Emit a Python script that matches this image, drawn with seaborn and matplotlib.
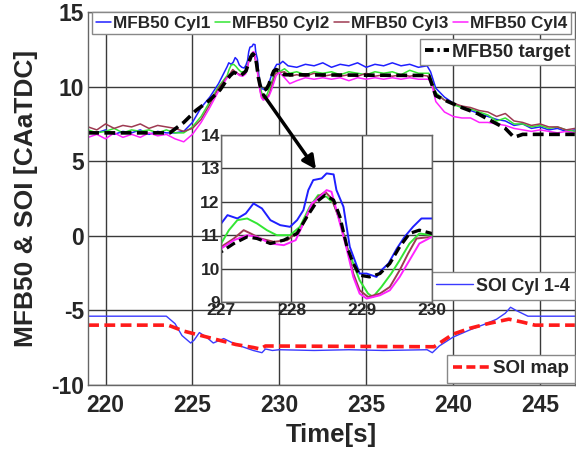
import numpy as np
import pandas as pd
import matplotlib
matplotlib.use("Agg")
import matplotlib.pyplot as plt
import seaborn as sns
from matplotlib.lines import Line2D

sns.set_style("white")
plt.rcParams['font.family'] = ['Liberation Sans', 'DejaVu Sans']
plt.rcParams['font.weight'] = 'bold'
plt.rcParams['axes.unicode_minus'] = False

# ---------------- data ----------------
inset_t1 = [227, 227.09, 227.23, 227.35, 227.46, 227.58, 227.7, 227.84, 227.98, 228.08, 228.17, 228.24,
            228.31, 228.43, 228.5, 228.6, 228.64, 228.74, 228.83, 228.9, 228.97, 229.07, 229.21, 229.28,
            229.38, 229.5, 229.61, 229.73, 229.85, 230]
inset_v1 = [11.35, 11.6, 11.5, 11.65, 11.95, 11.8, 11.45, 11.3, 11.25, 11.45, 11.75, 12.35,
            12.65, 12.7, 12.85, 12.82, 12.35, 11.85, 10.65, 10.25, 9.85, 9.85, 9.75, 9.95,
            10.15, 10.6, 10.95, 11.25, 11.5, 11.5]
cyl1_t = ([219, 219.5, 220, 220.5, 221, 221.5, 222, 222.5, 223, 223.5, 224, 224.5, 225, 225.5, 226, 226.5]
          + inset_t1 +
          [230.2, 230.5, 231, 231.5, 232, 232.5, 233, 233.5, 234, 234.5, 235, 235.5, 236, 236.5, 237,
           237.5, 238, 238.5, 238.7, 239, 239.5, 240, 240.5, 241, 241.5, 242, 242.5, 243, 243.5, 244,
           244.5, 245, 245.5, 246, 246.5, 247])
cyl1_v = ([7.0, 6.9, 7.1, 6.8, 7.0, 6.9, 7.1, 6.8, 7.0, 6.9, 6.9, 7.0, 7.6, 8.6, 9.3, 10.2]
          + inset_v1 +
          [11.7, 11.4, 11.3, 11.5, 11.4, 11.6, 11.3, 11.5, 11.4, 11.6, 11.3, 11.5, 11.4, 11.6, 11.4,
           11.5, 11.3, 11.4, 11.0, 9.9, 9.3, 8.9, 8.6, 8.4, 8.2, 8.0, 7.8, 7.7, 7.4, 7.5,
           7.2, 7.3, 7.1, 7.2, 7.0, 7.1])

cyl2_t = ([219, 219.5, 220, 220.5, 221, 221.5, 222, 222.5, 223, 223.5, 224, 224.5, 225, 225.5, 226, 226.5,
           227, 227.11, 227.23, 227.37, 227.51, 227.65, 227.79, 227.98, 228.12, 228.26, 228.38, 228.5,
           228.6, 228.69, 228.79, 228.88, 228.97, 229.09, 229.16, 229.28, 229.42, 229.54, 229.68, 229.82, 230,
           230.3, 230.6, 231, 231.5, 232, 232.5, 233, 233.5, 234, 234.5, 235, 235.5, 236, 236.5, 237,
           237.5, 238, 238.6, 239, 239.5, 240, 240.5, 241, 241.5, 242, 242.5, 243, 243.5, 244, 244.5,
           245, 245.5, 246, 246.5, 247])
cyl2_v = ([7.1, 6.9, 7.0, 7.2, 6.9, 7.1, 7.0, 7.1, 6.9, 7.1, 6.9, 6.9, 7.3, 8.0, 9.0, 10.0,
           10.75, 11.15, 11.45, 11.5, 11.35, 11.15, 11.0, 11.0, 11.25, 11.85, 12.2, 12.15,
           11.95, 11.45, 10.65, 10.15, 9.65, 9.25, 9.15, 9.45, 9.85, 10.25, 10.75, 11.05, 11.0,
           11.2, 10.9, 11.0, 10.8, 11.0, 10.9, 11.0, 10.8, 11.0, 10.9, 10.8, 11.0, 10.9, 11.0, 10.8,
           11.1, 10.9, 10.9, 9.6, 9.1, 8.8, 8.6, 8.5, 8.3, 8.1, 7.7, 7.9, 7.5, 7.5, 7.3,
           7.4, 7.2, 7.3, 7.1, 7.0])

cyl3_t = ([219, 219.5, 220, 220.5, 221, 221.5, 222, 222.5, 223, 223.5, 224, 224.5, 225, 225.5, 226, 226.5,
           227, 227.18, 227.32, 227.42, 227.56, 227.75, 227.94, 228.12, 228.26, 228.38, 228.48, 228.57,
           228.67, 228.79, 228.88, 228.97, 229.09, 229.26, 229.4, 229.54, 229.66, 229.78, 230,
           230.3, 230.6, 231, 231.5, 232, 232.5, 233, 233.5, 234, 234.5, 235, 235.5, 236, 236.5, 237,
           237.5, 238, 238.6, 239, 239.5, 240, 240.5, 241, 241.5, 242, 242.5, 243, 243.5, 244, 244.5,
           245, 245.5, 246, 246.5, 247])
cyl3_v = ([7.3, 7.1, 7.5, 7.2, 7.4, 7.3, 7.5, 7.2, 7.4, 7.3, 7.2, 7.0, 7.2, 7.8, 8.8, 9.9,
           10.65, 10.9, 11.15, 11.05, 10.9, 10.8, 10.85, 11.15, 11.75, 12.15, 12.3, 12.1,
           11.55, 10.65, 9.85, 9.35, 9.15, 9.25, 9.45, 9.95, 10.45, 10.9, 10.95,
           11.0, 10.7, 10.8, 10.7, 10.9, 10.7, 10.8, 10.7, 10.8, 10.7, 10.9, 10.7, 10.8, 10.7, 10.8,
           10.7, 10.8, 10.7, 9.5, 9.1, 8.9, 8.7, 8.6, 8.4, 8.3, 8.0, 8.2, 7.7, 7.6, 7.4,
           7.5, 7.3, 7.3, 7.1, 7.2])

cyl4_t = ([219, 219.5, 220, 220.5, 221, 221.5, 222, 222.5, 223, 223.5, 224, 224.5, 225, 225.5, 226, 226.5,
           227, 227.18, 227.37, 227.51, 227.7, 227.89, 228.06, 228.17, 228.29, 228.38, 228.5, 228.57,
           228.64, 228.79, 228.88, 228.97, 229.07, 229.26, 229.4, 229.54, 229.68, 229.82, 230,
           230.3, 230.6, 231, 231.5, 232, 232.5, 233, 233.5, 234, 234.5, 235, 235.5, 236, 236.5, 237,
           237.5, 238, 238.6, 238.8, 239, 239.5, 240, 240.5, 241, 241.5, 242, 242.5, 243, 243.5, 244,
           244.5, 245, 245.5, 246, 246.5, 247])
cyl4_v = ([6.6, 6.8, 6.5, 6.9, 6.6, 6.8, 6.6, 6.9, 6.7, 6.8, 6.5, 6.3, 6.8, 7.6, 8.6, 9.7,
           10.6, 10.85, 11.0, 10.95, 10.75, 10.7, 10.85, 11.35, 11.95, 12.1, 12.35, 12.3,
           11.75, 10.55, 9.75, 9.25, 9.1, 9.2, 9.35, 9.75, 10.25, 10.75, 10.95,
           10.6, 10.2, 10.4, 10.6, 10.5, 10.6, 10.5, 10.6, 10.4, 10.6, 10.5, 10.6, 10.5, 10.6, 10.5,
           10.6, 10.5, 10.5, 10.0, 9.0, 8.3, 8.0, 7.9, 7.9, 7.6, 7.6, 7.5, 7.4, 7.2, 7.1,
           7.0, 7.1, 7.0, 6.9, 7.0, 6.9])

target_t = [219, 223.7, 224.5, 225.2, 226, 226.6, 227, 227.18, 227.37, 227.51, 227.7, 227.89, 228.08,
            228.22, 228.36, 228.48, 228.6, 228.69, 228.79, 228.88, 228.97, 229.11, 229.26, 229.4, 229.54,
            229.68, 229.82, 230, 230.3, 238.6, 239, 239.7, 240.5, 241.4, 242.2, 243, 243.5, 244, 247]
target_v = [6.9, 6.9, 7.6, 8.4, 9.1, 9.8, 10.5, 10.75, 10.95, 10.9, 10.75, 10.85, 11.05,
            11.55, 12.0, 12.2, 12.05, 11.55, 10.65, 10.15, 9.8, 9.75, 9.85, 10.15, 10.65,
            11.05, 11.15, 11.05, 10.8, 10.75, 9.4, 9.0, 8.6, 8.2, 7.7, 7.2, 6.6, 6.8, 6.8]

soi_t = [219, 223.5, 224, 224.4, 224.9, 225.1, 225.4, 225.8, 226.2, 226.8, 227.5, 228, 228.5, 229.0,
         229.2, 229.6, 230, 232, 234, 236, 238.5, 238.8, 239.2, 240, 241, 241.9, 242.5, 243, 243.3,
         243.6, 244.3, 247]
soi_v = [-5.4, -5.4, -5.9, -6.7, -7.2, -7.0, -6.5, -6.8, -7.2, -6.9, -7.3, -7.5, -7.7, -7.85,
         -7.6, -7.7, -7.65, -7.7, -7.65, -7.7, -7.65, -7.85, -7.4, -6.8, -6.3, -5.9, -5.6, -5.2, -4.8,
         -5.0, -5.4, -5.4]

map_t = [219, 223.6, 224.5, 225.5, 226.5, 227.5, 228.5, 228.9, 229.2, 238.9, 240, 241, 242, 243.2,
         244, 244.7, 247]
map_v = [-6.0, -6.0, -6.4, -6.7, -7.0, -7.3, -7.5, -7.6, -7.4, -7.45, -6.6, -6.2, -5.9, -5.6,
         -5.8, -6.0, -6.0]

xticks_main = [220, 225, 230, 235, 240, 245]
yticks_main = [-10, -5, 0, 5, 10, 15]
xticks_inset = [227, 228, 229, 230]
yticks_inset = [9, 10, 11, 12, 13, 14]

# ---------------- style ----------------
c1, c2, c3, c4 = '#1f1fff', '#33e633', '#9e3a52', '#ff22ff'
soi_c, map_c = '#3a3aff', '#ff1a1a'
grid_c = '#3a3a3a'
frame_c = '#666666'

fig = plt.figure(figsize=(5.76, 4.5), dpi=100)
ax = fig.add_axes([0.153, 0.145, 0.845, 0.828])


def draw_mfb(a, lw_c, lw_t):
    sns.lineplot(x=cyl1_t, y=cyl1_v, ax=a, color=c1, lw=lw_c, estimator=None, sort=False)
    sns.lineplot(x=cyl2_t, y=cyl2_v, ax=a, color=c2, lw=lw_c, estimator=None, sort=False)
    sns.lineplot(x=cyl3_t, y=cyl3_v, ax=a, color=c3, lw=lw_c, estimator=None, sort=False)
    sns.lineplot(x=cyl4_t, y=cyl4_v, ax=a, color=c4, lw=lw_c, estimator=None, sort=False)
    sns.lineplot(x=target_t, y=target_v, ax=a, color='black', lw=lw_t, estimator=None, sort=False,
                 linestyle=(0, (3, 1.5)))


draw_mfb(ax, 1.1, 2.6)
sns.lineplot(x=soi_t, y=soi_v, ax=ax, color=soi_c, lw=1.0, estimator=None, sort=False)
sns.lineplot(x=map_t, y=map_v, ax=ax, color=map_c, lw=2.6, estimator=None, sort=False,
             linestyle=(0, (3, 1.5)))

ax.set_xlim(219, 247)
ax.set_ylim(-10, 15)
ax.set_xticks(xticks_main)
ax.set_yticks(yticks_main)
ax.grid(True, color=grid_c, lw=1.0)
ax.tick_params(axis='x', labelsize=16.5, direction='in', length=0, pad=7)
ax.tick_params(axis='y', labelsize=16.5, direction='in', length=0, pad=3)
for lab in ax.get_xticklabels() + ax.get_yticklabels():
    lab.set_fontweight('bold')
ax.set_xlabel('Time[s]', fontsize=18.5, fontweight='bold', labelpad=4)
ax.set_ylabel('MFB50 & SOI [CAaTDC]', fontsize=19, fontweight='bold', labelpad=9)
for s in ax.spines.values():
    s.set_color(frame_c)
    s.set_linewidth(1.0)

# legends
leg_kw = dict(fancybox=False, edgecolor='#888888', framealpha=1, borderaxespad=0)
h_cyl = [Line2D([], [], color=c, lw=1.1) for c in (c1, c2, c3, c4)]
leg1 = ax.legend(h_cyl, ['MFB50 Cyl1', 'MFB50 Cyl2', 'MFB50 Cyl3', 'MFB50 Cyl4'],
                 ncol=4, loc='upper center', bbox_to_anchor=(0.5, 1.0),
                 handlelength=0.9, handletextpad=0.12, columnspacing=0.25, borderpad=0.2,
                 prop={'size': 12.3, 'weight': 'bold'}, **leg_kw)
ax.add_artist(leg1)
leg2 = ax.legend([Line2D([], [], color='black', lw=2.8, linestyle=(0, (2.2, 1.0, 0.6, 1.0)))],
                 ['MFB50 target'], loc='upper right', bbox_to_anchor=(1.0, 0.928),
                 handlelength=1.3, handletextpad=0.15, borderpad=0.25,
                 prop={'size': 13.5, 'weight': 'bold'}, **leg_kw)
ax.add_artist(leg2)
leg3 = ax.legend([Line2D([], [], color=soi_c, lw=1.0)], ['SOI Cyl 1-4'], loc='upper right',
                 bbox_to_anchor=(1.0, 0.302), handlelength=2.1, handletextpad=0.15,
                 borderpad=0.3, prop={'size': 12.8, 'weight': 'bold'}, **leg_kw)
ax.add_artist(leg3)
leg4 = ax.legend([Line2D([], [], color=map_c, lw=2.6, linestyle=(0, (2.5, 1.2)))], ['SOI map'],
                 loc='lower right', bbox_to_anchor=(1.0, 0.005), handlelength=2.0,
                 handletextpad=0.15, borderpad=0.3, prop={'size': 13.5, 'weight': 'bold'}, **leg_kw)

# inset
axin = fig.add_axes([0.384, 0.329, 0.366, 0.371])
draw_mfb(axin, 1.4, 2.3)
axin.set_xlim(227, 230)
axin.set_ylim(9, 14)
axin.set_xticks(xticks_inset)
axin.set_yticks(yticks_inset)
axin.grid(True, color=grid_c, lw=1.0)
axin.tick_params(labelsize=12.5, length=0, pad=1)
for lab in axin.get_xticklabels() + axin.get_yticklabels():
    lab.set_fontweight('bold')
axin.set_xlabel('')
axin.set_ylabel('')
for s in axin.spines.values():
    s.set_color(frame_c)
    s.set_linewidth(1.0)

# arrow (drawn above the inset)
arr = axin.annotate('', xy=(232.2, 4.3), xytext=(229.0, 9.6),
                    xycoords=ax.transData, textcoords=ax.transData,
                    arrowprops=dict(arrowstyle='-|>', color='black', lw=2.5, mutation_scale=20))
arr.set_clip_on(False)
arr.arrow_patch.set_clip_on(False)

fig.savefig('out.png', dpi=100)
